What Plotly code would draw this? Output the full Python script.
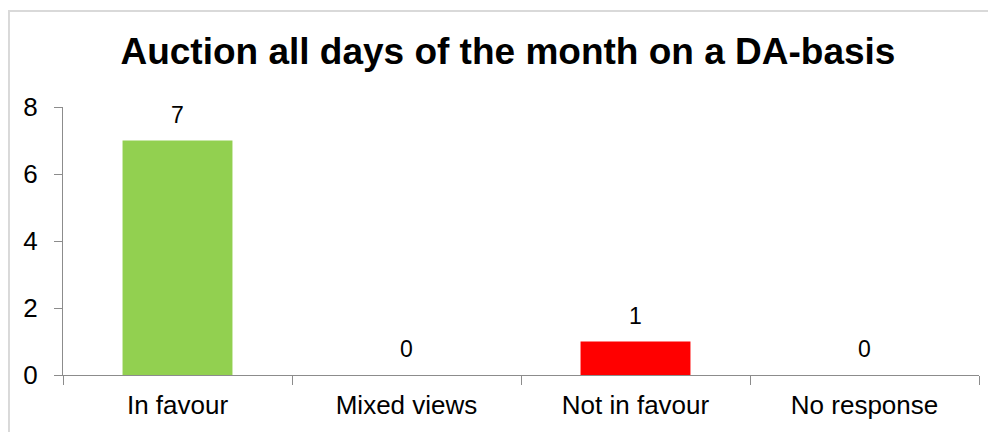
import plotly.graph_objects as go

# dati
categories = ['In favour', 'Mixed views', 'Not in favour', 'No response']
values = [7, 0, 1, 0]
bar_colors = ['#92D050', '#92D050', '#FF0000', '#92D050']
y_ticks = [0, 2, 4, 6, 8]

title = 'Auction all days of the month on a DA-basis'

fig = go.Figure()
fig.add_trace(go.Bar(x=categories,
                     y=values,
                     width=0.48,
                     marker=dict(color=bar_colors, line=dict(width=0))))

# etichette dei valori sopra le barre
for cat, v in zip(categories, values):
    fig.add_annotation(x=cat, y=v, text=str(v),
                       showarrow=False, yanchor='bottom', yshift=11,
                       font=dict(size=23, color='black'))

# assi
fig.update_xaxes(showline=True, linecolor='#8C8C8C', linewidth=1,
                 ticks='outside', tickson='boundaries', ticklen=9,
                 tickcolor='#8C8C8C', ticklabelstandoff=7,
                 tickfont=dict(size=26, color='black'),
                 showgrid=False)
fig.update_yaxes(range=[0, 8], tickvals=y_ticks,
                 showline=True, linecolor='#8C8C8C', linewidth=1,
                 ticks='outside', ticklen=8, tickcolor='#8C8C8C',
                 ticklabelstandoff=11,
                 tickfont=dict(size=26, color='black'),
                 showgrid=False, zeroline=False)

# bordo del grafico
fig.add_shape(type='rect', xref='paper', yref='paper',
              x0=-0.059, x1=1.1, y0=-0.5, y1=1.358,
              line=dict(color='#D9D9D9', width=2))

# la pagina html ha 8px di margine: figura ridotta di conseguenza
fig.update_layout(
    width=988, height=424,
    margin=dict(l=55, r=17, t=99, b=57),
    paper_bgcolor='white', plot_bgcolor='white',
    font=dict(family='Arial, Liberation Sans, sans-serif', color='black'),
    title=dict(text='<b>' + title + '</b>', x=0.506, xref='container',
               xanchor='center', y=0.899, yref='container', yanchor='middle',
               font=dict(size=37, color='black')),
    showlegend=False)

fig.write_html('out.html')
